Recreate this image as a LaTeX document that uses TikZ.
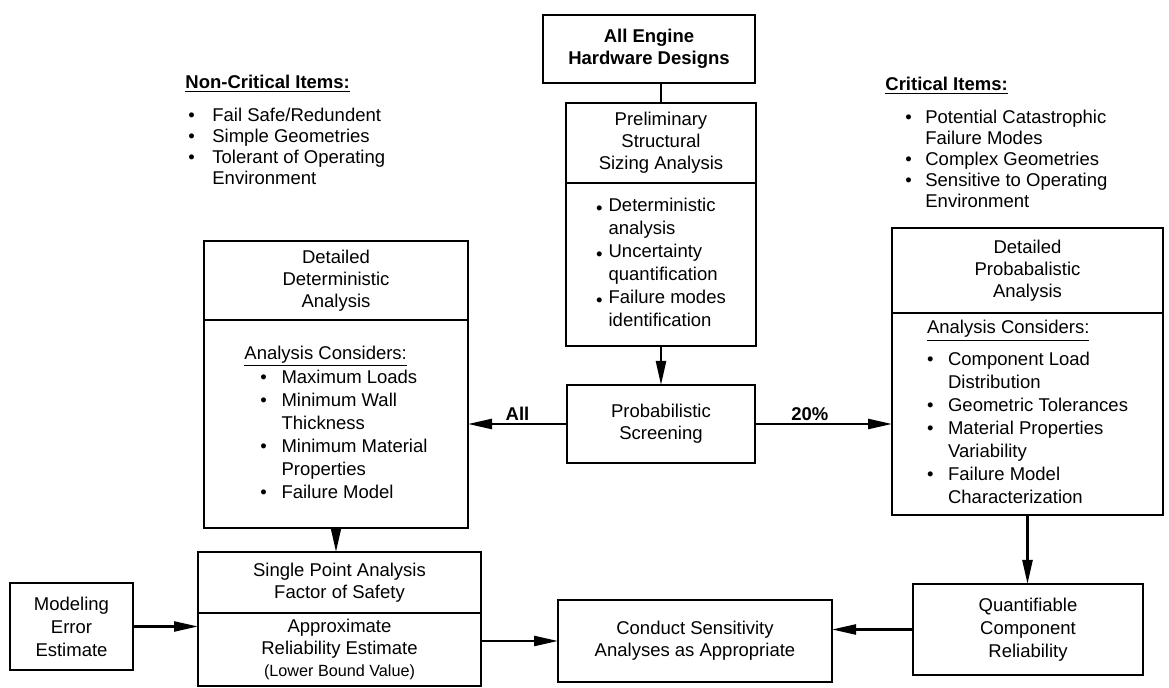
\documentclass[tikz,border=0pt]{standalone}
\usepackage{fontspec}
\setmainfont{Liberation Sans}
\usepackage{tikz}
\usetikzlibrary{positioning,arrows.meta,calc}
\newcommand{\flowfont}{\fontsize{9.25pt}{11pt}\selectfont}
\newcommand{\listfont}{\fontsize{9.25pt}{11.5pt}\selectfont}
\newcommand{\notefont}{\fontsize{9.25pt}{10.5pt}\selectfont}
\tikzset{
    >={Triangle[length=12pt,width=5pt]},
    flowbox/.style={
        rectangle,
        draw=black, line width=1.2pt,
        align=center,
        inner sep=2pt,
        outer sep=0pt,
        font=\flowfont
    },
    listbox/.style={
        flowbox,
        font=\listfont
    },
    link/.style={draw, line width=1.2pt},
    line/.style={draw, line width=1.2pt, ->},
    tag/.style={midway, above, inner sep=1pt, font=\flowfont\bfseries},
    itemlist/.style={anchor=base west, inner sep=0pt, font=\notefont},
}

\begin{document}
\begin{tikzpicture}[x=0.5pt,y=-0.5pt]
\useasboundingbox (0,0) rectangle (1169,688);
% side notes
\node[itemlist] (noncrit) at (185,88.5) {\begin{tabular}[t]{@{\hspace{1.5pt}}l@{\hspace{8.75pt}}l@{}}
    \multicolumn{2}{@{}l@{}}{\textbf{\underline{Non-Critical Items:}}}\\[6pt]
    \textbullet & Fail Safe/Redundent\\
    \textbullet & Simple Geometries\\
    \textbullet & Tolerant of Operating\\
                & Environment
\end{tabular}};
\node[itemlist] (crit) at (885,90.5) {\begin{tabular}[t]{@{\hspace{10pt}}l@{\hspace{6.75pt}}l@{}}
    \multicolumn{2}{@{}l@{}}{\textbf{\underline{Critical Items:}}}\\[6pt]
    \textbullet & Potential Catastrophic\\
                & Failure Modes\\
    \textbullet & Complex Geometries\\
    \textbullet & Sensitive to Operating\\
                & Environment
\end{tabular}};
% centre column
\node[flowbox, font=\flowfont\bfseries, minimum width=106pt, minimum height=34pt] (hw) at (649,49) {All Engine\\Hardware Designs};
\node[flowbox, minimum width=95pt, minimum height=40pt] (prelimtop) at (661,143) {Preliminary\\Structural\\Sizing Analysis};
\node[listbox, minimum width=95pt, minimum height=81.5pt, below=0pt of prelimtop] (prelimbody) {\begin{tabular}{@{}l@{\hspace{3pt}}l@{}}
    \raisebox{-0.3ex}{\textbullet} & Deterministic\\
                                  & analysis\\
    \raisebox{-0.3ex}{\textbullet} & Uncertainty\\
                                  & quantification\\
    \raisebox{-0.3ex}{\textbullet} & Failure modes\\
                                  & identification
\end{tabular}};
\node[flowbox, minimum width=94pt, minimum height=39pt] (ps) at (661,424) {Probabilistic\\Screening};
% left branch
\node[flowbox, minimum width=132pt, minimum height=39.5pt] (ddtop) at (336,280.5) {Detailed\\Deterministic\\Analysis};
\node[listbox, minimum width=132pt, minimum height=104pt, below=0pt of ddtop] (ddbody) {\begin{tabular}{@{\hspace{8pt}}l@{\hspace{7.3pt}}l@{}}
    \multicolumn{2}{@{}l@{}}{\underline{Analysis Considers:}}\\
    \textbullet & Maximum Loads\\
    \textbullet & Minimum Wall\\
                & Thickness\\
    \textbullet & Minimum Material\\
                & Properties\\
    \textbullet & Failure Model
\end{tabular}};
\node[flowbox, minimum width=141.5pt, minimum height=30.5pt] (sptop) at (339.5,582.5) {Single Point Analysis\\Factor of Safety};
\node[flowbox, minimum width=141.5pt, minimum height=36.5pt, inner ysep=1pt, below=0pt of sptop] (spbody) {Approximate\\Reliability Estimate\\{\fontsize{8.1pt}{10pt}\selectfont(Lower Bound Value)}};
\node[listbox, minimum width=61.5pt, minimum height=43.5pt] (model) at (71.5,626.5) {Modeling\\Error\\Estimate};
\node[flowbox, minimum width=137pt, minimum height=41pt] (conduct) at (695,641) {Conduct Sensitivity\\Analyses as Appropriate};
% right branch
\node[flowbox, minimum width=135.5pt, minimum height=42.5pt] (dptop) at (1027.5,270.5) {Detailed\\Probabalistic\\Analysis};
\node[listbox, minimum width=135.5pt, minimum height=101pt, below=0pt of dptop] (dpbody) {\begin{tabular}{@{}l@{\hspace{7.3pt}}l@{}}
    \multicolumn{2}{@{}l@{}}{\underline{Analysis Considers:}}\\[4.5pt]
    \textbullet & Component Load\\
                & Distribution\\
    \textbullet & Geometric Tolerances\\
    \textbullet & Material Properties\\
                & Variability\\
    \textbullet & Failure Model\\
                & Characterization
\end{tabular}};
\node[listbox, minimum width=115pt, minimum height=45.5pt] (qrel) at (1028,629.5) {Quantifiable\\Component\\Reliability};
% connectors
\path[link] (hw.south -| prelimtop.north) -- (prelimtop.north);
\path[line] (prelimbody) -- (ps);
\path[line] (ps.west) -- (ps.west -| ddbody.east) node[tag] {All};
\path[line] (ps.east) -- (ps.east -| dpbody.west) node[tag, pos=0.4] {20\%};
\path[line] (ddbody.south) -- (ddbody.south |- sptop.north);
\path[line] (dpbody.south) -- (dpbody.south |- qrel.north);
\path[line] (model) -- (model -| spbody.west);
\path[line] (spbody.east |- conduct.west) -- (conduct.west);
\path[line] (qrel.west) -- (qrel.west -| conduct.east);
\end{tikzpicture}
\end{document}
